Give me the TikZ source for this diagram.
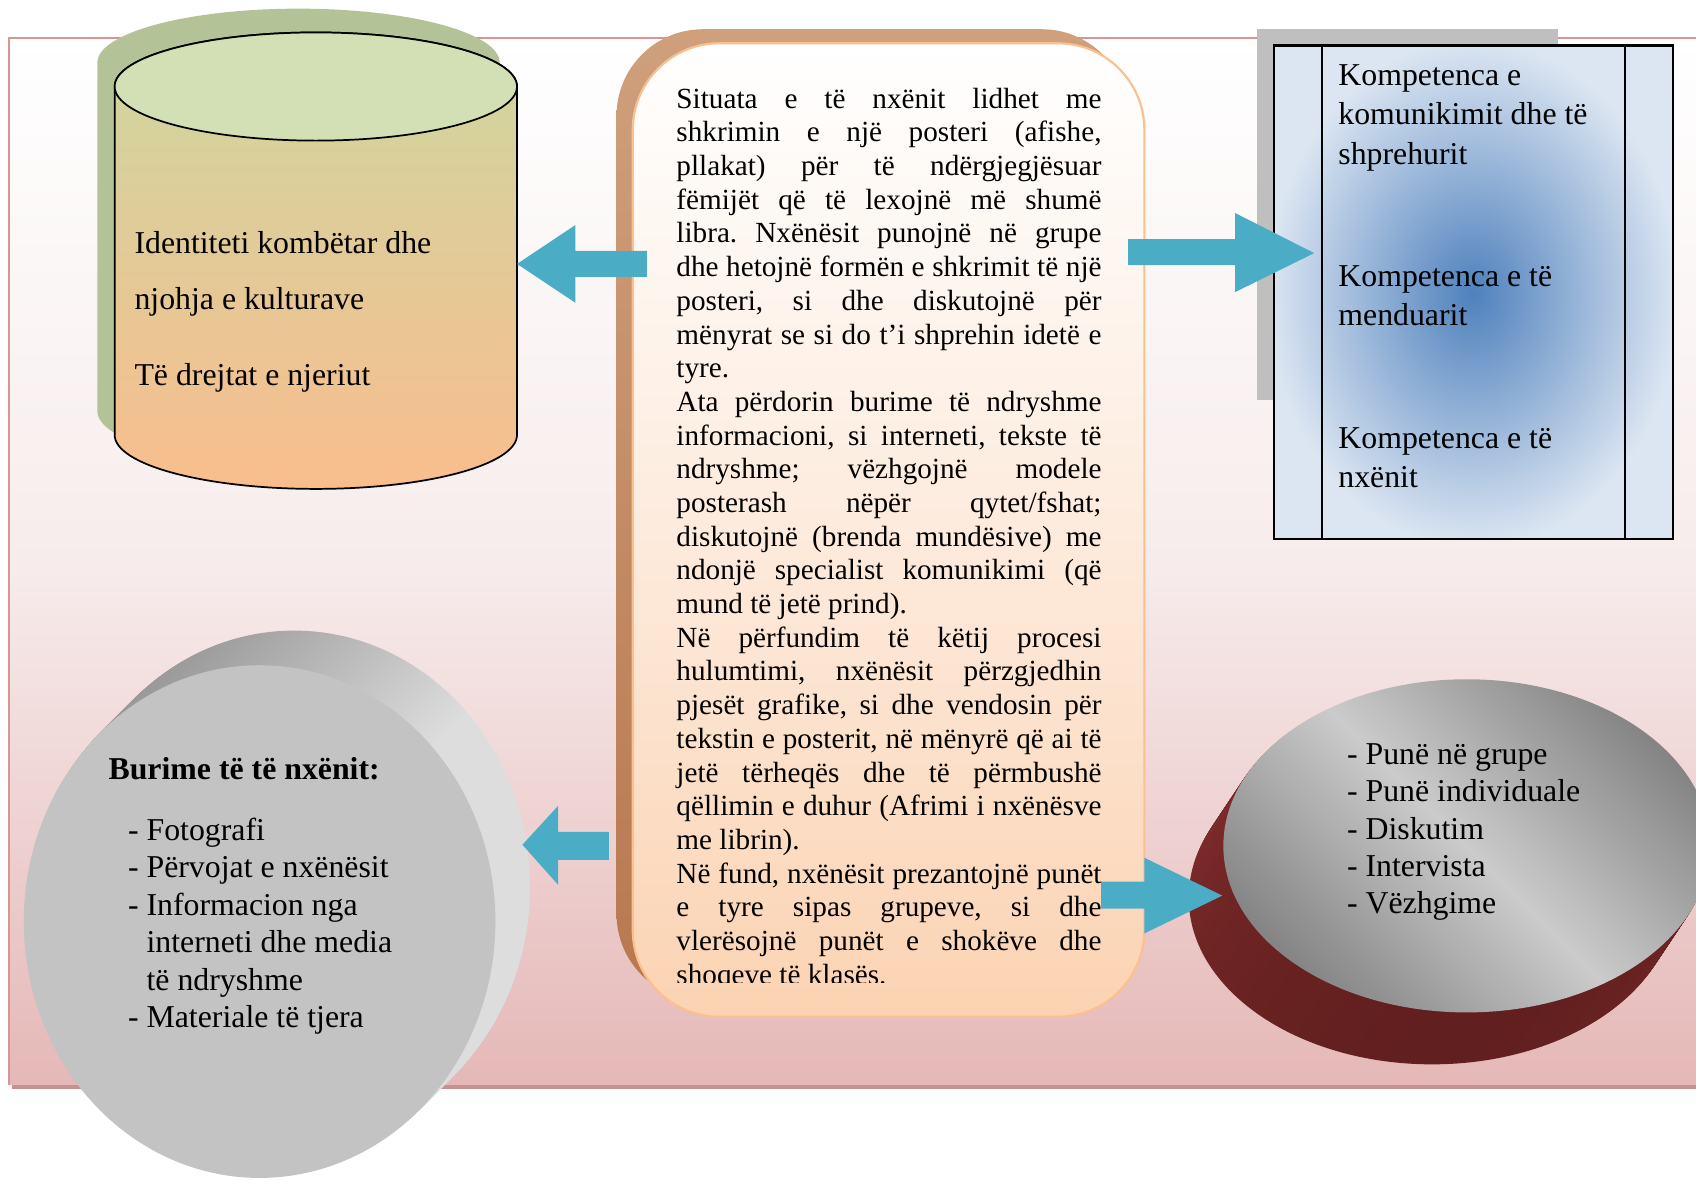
\documentclass[tikz,border=0pt]{standalone}
\usepackage{fontspec}
\setmainfont{Liberation Serif}

\definecolor{arrowblue}{HTML}{4BACC6}
\definecolor{bgpink}{HTML}{E5B8B7}
\definecolor{bgmid}{HTML}{F7ECEC}
\definecolor{bgline}{HTML}{D99594}
\definecolor{cylgreen}{HTML}{CDD7A1}
\definecolor{cyltop}{HTML}{D3E0B5}
\definecolor{cylorange}{HTML}{F9BD8D}
\definecolor{cylshadow}{HTML}{B4C297}
\definecolor{boxpeach}{HTML}{FBD3B2}
\definecolor{boxmid}{HTML}{FDEBDD}
\definecolor{boxline}{HTML}{FAC090}
\definecolor{boxbrownA}{HTML}{CFA07C}
\definecolor{boxbrownB}{HTML}{B7784F}
\definecolor{compblue}{HTML}{4F81BD}
\definecolor{complight}{HTML}{DCE6F2}
\definecolor{diskface}{HTML}{C3C3C3}
\definecolor{rimtop}{HTML}{9A9A9A}
\definecolor{rimlight}{HTML}{DDDDDD}
\definecolor{rimred}{HTML}{8A3030}
\definecolor{rimdark}{HTML}{621F1F}
\definecolor{facedark}{HTML}{858585}
\definecolor{facelight}{HTML}{CBCBCB}

\newcommand{\justline}[1]{\makebox[196.5pt][s]{#1}}

\tikzset{
    blockarrow/.style={fill=arrowblue},
    bodytext/.style={font=\fontsize{14.7}{17.3}\selectfont, inner sep=0pt, align=left, anchor=base west},
    paratext/.style={font=\fontsize{13.5}{15.6}\selectfont, inner sep=0pt, anchor=base west},
}

\begin{document}
\frenchspacing
\begin{tikzpicture}[x=0.5pt, y=-0.5pt]
    \useasboundingbox (0,0) rectangle (1568,1099);

    % background panel
    \fill[bgline!80!gray] (11,38) rectangle (1578,1007);
    \shade[top color=white, bottom color=bgpink, middle color=bgmid] (8,35) rectangle (1575,1003);
    \draw[bgline, line width=0.8pt] (8,1003) -- (8,35) -- (1575,35);

    % cylinder
    \fill[cylshadow] (90,58) -- (90,380) arc[start angle=180, end angle=0, x radius=186, y radius=50]
        -- (462,58) arc[start angle=0, end angle=-180, x radius=186, y radius=50] -- cycle;
    \shade[top color=cylgreen, bottom color=cylorange, draw=black, line width=0.8pt]
        (106,80) -- (106,402) arc[start angle=180, end angle=0, x radius=186, y radius=50]
        -- (478,80) arc[start angle=0, end angle=-180, x radius=186, y radius=50] -- cycle;
    \filldraw[fill=cyltop, draw=black, line width=0.8pt] (292,80) ellipse[x radius=186, y radius=50];

    % central box
    \shade[top color=boxbrownA, bottom color=boxbrownB, rounded corners=40pt] (570,27) rectangle (1043,925);
    \shade[top color=white, bottom color=boxpeach, middle color=boxmid, rounded corners=40pt] (585,40) rectangle (1058,940);
    \draw[boxline, line width=1pt, rounded corners=40pt] (585,40) rectangle (1058,940);

    % competences box
    \fill[black!25] (1162,27) rectangle (1440,370);
    \begin{scope}
        \clip (1178,42) rectangle (1547,498);
        \fill[complight] (1178,42) rectangle (1547,498);
        \shade[inner color=compblue, outer color=complight] (1362,272) ellipse[x radius=190, y radius=235];
    \end{scope}
    \draw[line width=1pt] (1178,42) rectangle (1547,498);
    \draw[line width=1pt] (1222,42) -- (1222,498) (1502,42) -- (1502,498);

    % sources disk
    \foreach \k in {32,31,...,1} {
            \shade[top color=rimtop, bottom color=rimlight, middle color=rimlight, shading angle=45]
                ({240+\k},{852-\k}) ellipse[x radius=218, y radius=237];
        }
    \fill[diskface] (240,852) ellipse[x radius=218, y radius=237];

    % methods disk
    \foreach \k in {48,47,...,1} {
            \shade[top color=rimred, bottom color=rimdark] ({1356-\k*2/3},{782+\k}) ellipse[x radius=225, y radius=154];
        }
    \shade[top color=facedark, bottom color=facedark, middle color=facelight, shading angle=-45]
        (1356,782) ellipse[x radius=225, y radius=154];

    % arrows
    \fill[blockarrow] (598,232) -- (532,232) -- (532,208) -- (478,244) -- (532,280) -- (532,256) -- (598,256) -- cycle;
    \fill[blockarrow] (1043,221) -- (1142,221) -- (1142,197) -- (1215,234) -- (1142,270) -- (1142,245) -- (1043,245) -- cycle;
    \fill[blockarrow] (563,769) -- (516,769) -- (516,745) -- (483,781) -- (516,818) -- (516,795) -- (563,795) -- cycle;
    \fill[blockarrow] (1018,815) -- (1058,815) -- (1058,793) -- (1130,828) -- (1058,863) -- (1058,840) -- (1018,840) -- cycle;

    % texts (multi-line nodes sit on their last baseline)
    \node[bodytext, font=\fontsize{14.7}{26}\selectfont] (identiteti) at (124,286) {Identiteti kombëtar dhe\\njohja e kulturave};
    \node[bodytext] (drejtat) at (124,356) {Të drejtat e njeriut};

    \node[bodytext, font=\fontsize{14.7}{18.25}\selectfont] (komunikim) at (1237,152) {Kompetenca e\\komunikimit dhe të\\shprehurit};
    \node[bodytext, font=\fontsize{14.7}{18.25}\selectfont] (mendim) at (1237,301) {Kompetenca e të\\menduarit};
    \node[bodytext, font=\fontsize{14.7}{18.25}\selectfont] (nxenie) at (1237,451) {Kompetenca e të\\nxënit};

    \node[bodytext, font=\bfseries\fontsize{14.7}{17.3}\selectfont] (burime) at (100,721) {Burime të të nxënit:};
    \node[bodytext] (burimlist) at (118,950) {- Fotografi\\- Përvojat e nxënësit\\- Informacion nga\\\hphantom{-~}interneti dhe media\\\hphantom{-~}të ndryshme\\- Materiale të tjera};

    \node[bodytext] (metoda) at (1245,845) {- Punë në grupe\\- Punë individuale\\- Diskutim\\- Intervista\\- Vëzhgime};

    \begin{scope}
        \clip (585,40) rectangle (1058,908);
        \foreach \ln [count=\i] in {
                {\justline{Situata e të nxënit lidhet me}},
                {\justline{shkrimin e një posteri (afishe,}},
                {\justline{pllakat) për të ndërgjegjësuar}},
                {\justline{fëmijët që të lexojnë më shumë}},
                {\justline{libra. Nxënësit punojnë në grupe}},
                {\justline{dhe hetojnë formën e shkrimit të një}},
                {\justline{posteri, si dhe diskutojnë për}},
                {\justline{mënyrat se si do t’i shprehin idetë e}},
                {tyre.},
                {\justline{Ata përdorin burime të ndryshme}},
                {\justline{informacioni, si interneti, tekste të}},
                {\justline{ndryshme; vëzhgojnë modele}},
                {\justline{posterash nëpër qytet/fshat;}},
                {\justline{diskutojnë (brenda mundësive) me}},
                {\justline{ndonjë specialist komunikimi (që}},
                {mund të jetë prind).},
                {\justline{Në përfundim të këtij procesi}},
                {\justline{hulumtimi, nxënësit përzgjedhin}},
                {\justline{pjesët grafike, si dhe vendosin për}},
                {\justline{tekstin e posterit, në mënyrë që ai të}},
                {\justline{jetë tërheqës dhe të përmbushë}},
                {\justline{qëllimin e duhur (Afrimi i nxënësve}},
                {me librin).},
                {\justline{Në fund, nxënësit prezantojnë punët}},
                {\justline{e tyre sipas grupeve, si dhe}},
                {\justline{vlerësojnë punët e shokëve dhe}},
                {shoqeve të klasës.}} {
                \node[paratext] (sit\i) at (625,{100+31.15*(\i-1)}) {\ln};
            }
    \end{scope}
\end{tikzpicture}
\end{document}
